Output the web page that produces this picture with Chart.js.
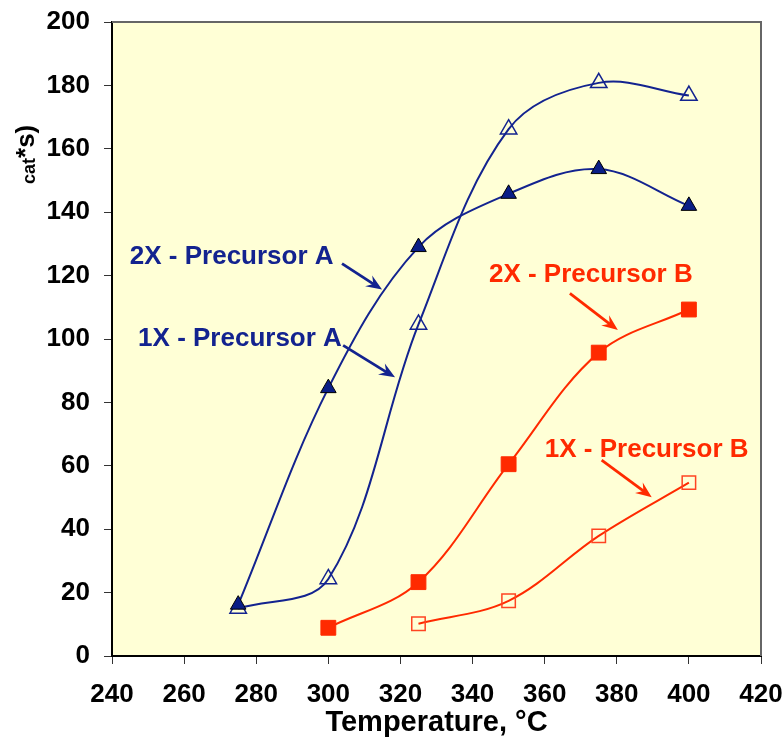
<!DOCTYPE html>
<html>
<head>
<meta charset="utf-8">
<script src="https://cdn.jsdelivr.net/npm/chart.js@4/dist/chart.umd.min.js"></script>
<style>
  html, body { margin: 0; padding: 0; background: #ffffff; }
  #wrap { width: 784px; height: 740px; }
</style>
</head>
<body>
<div id="wrap"><canvas id="chart" width="784" height="740"></canvas></div>
<script>
// Reaction temperature, °C
const temperatures = [275, 300, 325, 350, 375, 400];

// Rate per series (null = not measured at that temperature)
const rate2xPrecursorA = [16.2, 84.5, 129.0, 145.8, 153.6, 142.0];
const rate1xPrecursorA = [15.0, 24.3, 104.6, 166.2, 180.8, 176.8];
const rate2xPrecursorB = [null, 8.9, 23.3, 60.5, 95.7, 109.3];
const rate1xPrecursorB = [null, null, 10.2, 17.4, 37.9, 54.7];

// Axis tick values
const xTickValues = [240, 260, 280, 300, 320, 340, 360, 380, 400, 420];
const yTickValues = [0, 20, 40, 60, 80, 100, 120, 140, 160, 180, 200];

const NAVY = '#13238F';
const NAVY_FILL = '#0A1E86';
const RED = '#FF2A00';
const FONT = '"Liberation Sans", Arial, sans-serif';

function toPoints(values) {
  const pts = [];
  temperatures.forEach((t, i) => {
    if (values[i] !== null) pts.push({ x: t, y: values[i] });
  });
  return pts;
}

// Callout labels with arrows, placed in data coordinates
const callouts = [
  { text: '2X - Precursor A', color: NAVY, at: [273.2, 125.8], from: [303.8, 123.8], to: [314.9, 115.6] },
  { text: '1X - Precursor A', color: NAVY, at: [275.5, 100.2], from: [304.1, 98.0], to: [318.5, 87.9] },
  { text: '2X - Precursor B', color: RED,  at: [372.8, 120.1], from: [367.0, 114.4], to: [380.3, 102.8] },
  { text: '1X - Precursor B', color: RED,  at: [388.3, 64.9],  from: [375.8, 61.8],  to: [389.7, 50.1] }
];

const plotFrame = {
  id: 'plotFrame',
  beforeDraw(chart) {
    const { ctx, chartArea: a } = chart;
    ctx.save();
    ctx.fillStyle = '#FFFFD6';
    ctx.fillRect(a.left, a.top, a.right - a.left, a.bottom - a.top);
    ctx.restore();
  },
  afterDraw(chart) {
    const { ctx, chartArea: a } = chart;
    ctx.save();
    ctx.strokeStyle = '#666666';
    ctx.lineWidth = 2;
    ctx.beginPath();
    ctx.moveTo(a.left, a.top);
    ctx.lineTo(a.right, a.top);
    ctx.lineTo(a.right, a.bottom);
    ctx.stroke();

    // Partial y-axis title (rotated)
    ctx.fillStyle = '#000';
    ctx.textAlign = 'left';
    ctx.textBaseline = 'alphabetic';
    ctx.translate(35, 184);
    ctx.rotate(-Math.PI / 2);
    ctx.font = 'bold 18px ' + FONT;
    ctx.fillText('cat', 0, 0);
    const w = ctx.measureText('cat').width;
    ctx.font = 'bold 26px ' + FONT;
    ctx.fillText('*s)', w, -1);
    ctx.restore();
  }
};

const calloutPlugin = {
  id: 'callouts',
  afterDatasetsDraw(chart) {
    const { ctx, scales: { x, y } } = chart;
    ctx.save();
    callouts.forEach(c => {
      ctx.fillStyle = c.color;
      ctx.strokeStyle = c.color;
      ctx.font = 'bold 26px ' + FONT;
      ctx.textAlign = 'center';
      ctx.textBaseline = 'middle';
      ctx.fillText(c.text, x.getPixelForValue(c.at[0]), y.getPixelForValue(c.at[1]));

      const x1 = x.getPixelForValue(c.from[0]), y1 = y.getPixelForValue(c.from[1]);
      const x2 = x.getPixelForValue(c.to[0]),   y2 = y.getPixelForValue(c.to[1]);
      const ang = Math.atan2(y2 - y1, x2 - x1);
      const dx = Math.cos(ang), dy = Math.sin(ang);
      const L = 16, W = 6.5;
      ctx.lineWidth = 2.8;
      ctx.beginPath();
      ctx.moveTo(x1, y1);
      ctx.lineTo(x2 - dx * L * 0.6, y2 - dy * L * 0.6);
      ctx.stroke();
      ctx.beginPath();
      ctx.moveTo(x2, y2);
      ctx.lineTo(x2 - dx * L - dy * W, y2 - dy * L + dx * W);
      ctx.lineTo(x2 - dx * L * 0.65, y2 - dy * L * 0.65);
      ctx.lineTo(x2 - dx * L + dy * W, y2 - dy * L - dx * W);
      ctx.closePath();
      ctx.fill();
    });
    ctx.restore();
  }
};

new Chart(document.getElementById('chart'), {
  type: 'line',
  data: {
    datasets: [
      {
        label: '2X - Precursor A',
        data: toPoints(rate2xPrecursorA),
        borderColor: NAVY, borderWidth: 2,
        pointStyle: 'triangle', pointRadius: 9,
        pointBackgroundColor: NAVY_FILL, pointBorderColor: '#000', pointBorderWidth: 1
      },
      {
        label: '1X - Precursor A',
        data: toPoints(rate1xPrecursorA),
        borderColor: NAVY, borderWidth: 2,
        pointStyle: 'triangle', pointRadius: 9.5,
        pointBackgroundColor: 'rgba(0,0,0,0)', pointBorderColor: NAVY, pointBorderWidth: 1.5
      },
      {
        label: '2X - Precursor B',
        data: toPoints(rate2xPrecursorB),
        borderColor: RED, borderWidth: 2,
        pointStyle: 'rect', pointRadius: 10.5,
        pointBackgroundColor: RED, pointBorderColor: RED, pointBorderWidth: 1
      },
      {
        label: '1X - Precursor B',
        data: toPoints(rate1xPrecursorB),
        borderColor: RED, borderWidth: 2,
        pointStyle: 'rect', pointRadius: 9.5,
        pointBackgroundColor: 'rgba(0,0,0,0)', pointBorderColor: '#FF4422', pointBorderWidth: 1.5
      }
    ]
  },
  options: {
    responsive: false,
    animation: false,
    devicePixelRatio: 1,
    layout: { padding: { left: 0, top: 22, right: 23, bottom: 0 } },
    plugins: { legend: { display: false }, tooltip: { enabled: false } },
    elements: { line: { tension: 0.35, fill: false } },
    scales: {
      x: {
        type: 'linear',
        min: xTickValues[0], max: xTickValues[xTickValues.length - 1],
        afterBuildTicks(scale) { scale.ticks = xTickValues.map(v => ({ value: v })); },
        afterFit(scale) {
          scale.height = 84;
          scale.paddingLeft = 0;
          scale.paddingRight = 0;
        },
        grid: { drawOnChartArea: false, drawTicks: true, tickLength: 8, color: '#333', lineWidth: 1 },
        border: { color: '#000', width: 2 },
        ticks: { color: '#000', font: { family: FONT, size: 26, weight: 'bold' }, padding: 15, maxRotation: 0 },
        title: { display: true, text: 'Temperature, °C', color: '#000',
                 font: { family: FONT, size: 29, weight: 'bold' }, padding: { top: 0, bottom: 0 } }
      },
      y: {
        type: 'linear',
        min: yTickValues[0], max: yTickValues[yTickValues.length - 1],
        afterBuildTicks(scale) { scale.ticks = yTickValues.map(v => ({ value: v })); },
        afterFit(scale) {
          scale.width = 112;
          scale.paddingTop = 0;
          scale.paddingBottom = 0;
        },
        grid: { drawOnChartArea: false, drawTicks: true, tickLength: 8, color: '#333', lineWidth: 1 },
        border: { color: '#000', width: 2 },
        ticks: { color: '#000', font: { family: FONT, size: 26, weight: 'bold' }, padding: 14 }
      }
    }
  },
  plugins: [plotFrame, calloutPlugin]
});
</script>
</body>
</html>
